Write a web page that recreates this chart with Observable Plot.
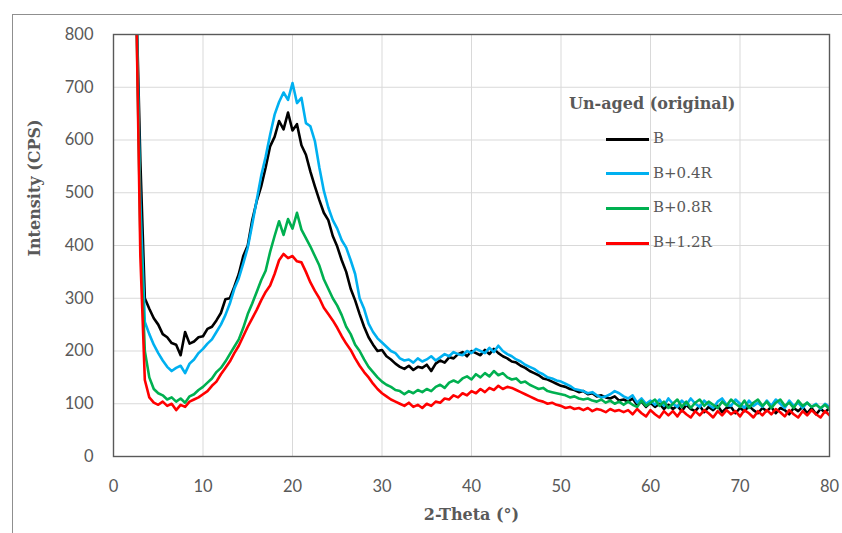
<!DOCTYPE html>
<html><head><meta charset="utf-8">
<script src="https://cdn.jsdelivr.net/npm/d3@7"></script>
<script src="https://cdn.jsdelivr.net/npm/@observablehq/plot@0.6"></script>
<style>
body{margin:0;background:#fff;}
#wrap{position:relative;width:842px;height:533px;overflow:hidden;background:#fff;}
#border{position:absolute;left:12px;top:14px;width:900px;height:600px;border-left:1px solid #8f8f8f;border-top:1px solid #8f8f8f;pointer-events:none;}
.lg{position:absolute;font-family:"DejaVu Serif",serif;color:#595959;white-space:nowrap;}
.lgtitle{font-weight:bold;font-size:16px;}
.lgitem{font-size:15px;}
.sw{position:absolute;height:3px;width:43px;}
</style></head>
<body>
<div id="wrap"><div id="chart"></div><div id="border"></div><div id="legend"></div></div>
<script>
// x sampling grid: 2.5° to 80° in 0.5° steps
const theta = d3.range(2.5, 80.01, 0.5);
const xTicks = [0,10,20,30,40,50,60,70,80];
const yTicks = [0,100,200,300,400,500,600,700,800];
const seriesNames = ["B","B+0.4R","B+0.8R","B+1.2R"];
const seriesColors = ["#000000","#00B0F0","#00B050","#FF0000"];
const legendTitle = "Un-aged (original)";

const B = [
 900,560,300,280,262,250,232,226,215,212,
 192,236,214,218,226,228,242,246,258,272,
 298,300,322,346,380,400,448,484,512,548,
 588,606,636,620,652,618,630,590,572,540,
 512,486,462,448,418,398,372,350,318,296,
 270,246,226,212,200,202,190,184,176,170,
 166,172,164,170,168,174,162,176,182,178,
 188,186,194,198,190,200,196,192,202,194,
 204,196,190,186,180,178,172,168,162,158,
 154,148,146,142,138,134,132,128,126,122,
 124,118,120,114,116,112,110,114,106,108,
 104,110,98,104,94,102,94,100,90,98,
 90,96,86,98,90,86,96,84,94,88,
 96,84,92,94,82,92,86,96,88,82,
 92,86,94,82,92,88,80,92,86,94,
 82,92,80,90,84,92];
const B04R = [
 900,480,255,232,212,196,182,170,162,168,
 172,158,176,184,196,204,214,222,236,250,
 268,290,318,338,366,396,440,486,532,568,
 610,648,672,690,676,708,670,680,632,626,
 598,548,504,472,448,432,410,396,372,346,
 300,280,252,236,224,216,208,200,196,186,
 182,184,178,186,180,184,190,182,188,194,
 190,198,194,192,200,196,204,200,196,206,
 198,210,200,194,190,184,180,174,170,166,
 160,156,150,148,144,142,138,134,128,126,
 124,120,122,116,112,114,118,124,120,114,
 110,116,102,110,100,106,98,108,96,110,
 100,94,106,98,110,100,94,106,98,92,
 104,110,98,96,108,100,92,106,96,102,
 94,106,96,108,100,92,106,96,102,92,
 102,94,100,90,100,94];
const B08R = [
 900,420,200,150,128,120,116,108,112,104,
 110,102,114,118,126,132,140,148,160,168,
 180,194,208,222,244,270,290,312,334,352,
 388,418,446,420,450,432,462,430,414,398,
 380,362,336,318,300,286,268,246,232,212,
 200,184,170,160,150,142,136,132,126,124,
 118,124,120,126,122,128,124,132,136,130,
 140,144,140,148,152,146,156,150,158,152,
 162,154,158,150,146,148,140,142,136,132,
 128,130,124,122,120,118,116,112,114,110,
 108,110,106,104,108,102,106,100,104,98,
 104,98,94,106,96,102,108,96,104,92,
 100,108,94,104,92,102,108,96,104,98,
 92,104,96,108,100,94,106,92,102,108,
 96,104,92,102,108,96,102,92,106,96,
 102,94,98,92,98,90];
const B12R = [
 900,380,145,112,102,98,104,96,100,88,
 98,94,104,108,112,118,124,134,142,156,
 168,180,196,210,228,246,262,278,296,312,
 324,346,372,384,376,380,370,368,350,330,
 314,300,282,270,258,244,228,214,202,186,
 172,160,150,138,128,120,114,108,104,100,
 96,102,94,98,92,100,96,104,102,110,
 108,116,112,120,116,124,120,128,122,130,
 126,134,128,132,130,126,122,118,114,110,
 106,104,100,102,98,96,92,94,90,92,
 88,92,86,90,88,84,90,86,88,84,
 88,80,90,82,76,88,80,74,86,78,
 86,76,88,80,74,86,78,88,82,74,
 86,78,88,80,86,76,88,82,74,86,
 78,88,80,90,84,76,88,80,74,86,
 78,88,80,74,86,78];

const seriesValues = [B, B04R, B08R, B12R];
const rows = seriesNames.flatMap((s, i) =>
  seriesValues[i].map((v, j) => ({theta: theta[j], I: v, s})));

const chart = Plot.plot({
  width: 842, height: 533,
  marginLeft: 113, marginRight: 13, marginTop: 34, marginBottom: 77,
  style: {fontFamily: "Lato, sans-serif", fontSize: "16.5px", color: "#595959", background: "transparent"},
  x: {domain: [0, 80]},
  y: {domain: [0, 800]},
  color: {domain: seriesNames, range: seriesColors},
  marks: [
    Plot.gridX(xTicks, {stroke: "#d9d9d9", strokeOpacity: 1, strokeWidth: 1}),
    Plot.gridY(yTicks, {stroke: "#d9d9d9", strokeOpacity: 1, strokeWidth: 1}),
    Plot.axisX(xTicks, {tickSize: 0, tickPadding: 24, label: null}),
    Plot.axisY(yTicks, {tickSize: 0, tickPadding: 20, label: null}),
    Plot.line(rows, {x: "theta", y: "I", z: "s", stroke: "s", strokeWidth: 2.6, clip: true}),
    Plot.frame({stroke: "#595959", strokeWidth: 1.4}),
    Plot.text(["2-Theta (°)"], {frameAnchor: "bottom", dy: 63, fontFamily: "DejaVu Serif", fontWeight: "bold", fontSize: 16, fill: "#595959"}),
    Plot.text(["Intensity (CPS)"], {frameAnchor: "left", dx: -79, dy: 11, rotate: -90, fontFamily: "DejaVu Serif", fontWeight: "bold", fontSize: 16, fill: "#595959"})
  ]
});
document.getElementById("chart").appendChild(chart);

// legend
const lg = document.getElementById("legend");
const t = document.createElement("div");
t.className = "lg lgtitle"; t.textContent = legendTitle;
t.style.left = "569px"; t.style.top = "94px";
lg.appendChild(t);
seriesNames.forEach((name, i) => {
  const yc = 139 + i * 34.7;
  const sw = document.createElement("div");
  sw.className = "sw"; sw.style.background = seriesColors[i];
  sw.style.left = "606px"; sw.style.top = (yc - 1.5) + "px";
  lg.appendChild(sw);
  const tx = document.createElement("div");
  tx.className = "lg lgitem"; tx.textContent = name;
  tx.style.left = "653px"; tx.style.top = (yc - 10) + "px";
  lg.appendChild(tx);
});
</script>
</body></html>
